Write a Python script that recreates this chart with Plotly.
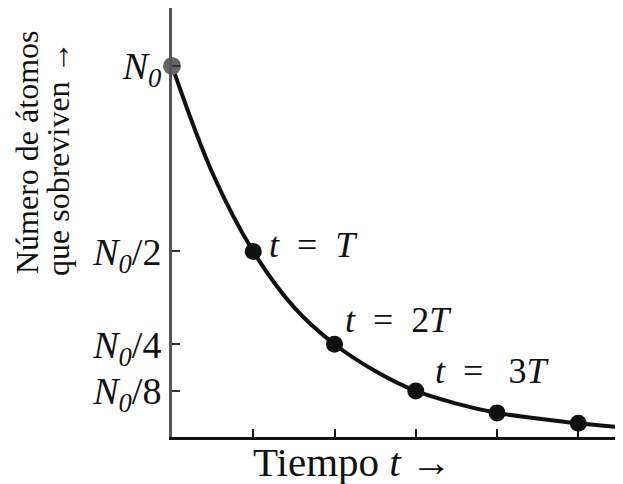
import plotly.graph_objects as go

# curve (t in half-lives, N/N0)
curve_t = [0, 0.5, 1, 1.5, 2, 2.5, 3, 3.5, 4, 4.5, 5, 5.55]
curve_n = [1.0, 0.71, 0.5, 0.35, 0.25, 0.178, 0.124, 0.09, 0.065, 0.05, 0.037, 0.026]

dot_t = [1, 2, 3, 4, 5]
dot_n = [0.5, 0.25, 0.124, 0.065, 0.037]

y_ticks = [1, 0.5, 0.25, 0.125]
y_labels = [
    "<i>N</i><sub><i>0</i></sub>",
    "<i>N</i><sub><i>0</i></sub>/2",
    "<i>N</i><sub><i>0</i></sub>/4",
    "<i>N</i><sub><i>0</i></sub>/8",
]
x_ticks = [1, 2, 3, 4, 5]

notes = [
    (1.17, 0.518, "<i>t</i>\u2002=\u2002<i>T</i>"),
    (2.11, 0.315, "<i>t</i>\u2002=\u20022<i>T</i>"),
    (3.21, 0.178, "<i>t</i>\u2002=\u2002\u20093<i>T</i>"),
]

SERIF = "Liberation Serif"

# the page adds an 8px body margin, so the figure is 8px smaller and shifted
W, H = 615, 476
L, B = 164, 47
PW, PH = W - L, H - B


def px_x(x):
    return (x - 8 - L) / PW


def px_y(y):
    return (H - B - (y - 8)) / PH


fig = go.Figure()
fig.add_trace(go.Scatter(
    x=curve_t, y=curve_n, mode="lines", line=dict(color="#111", width=4, shape="spline"),
    hoverinfo="skip",
))
fig.add_trace(go.Scatter(
    x=dot_t, y=dot_n, mode="markers", marker=dict(color="#111", size=17),
    cliponaxis=False,
))
fig.add_trace(go.Scatter(
    x=[0], y=[1], mode="markers", marker=dict(color="#666", size=18),
    cliponaxis=False,
))

for x, y, txt in notes:
    fig.add_annotation(x=x, y=y, text=txt, showarrow=False, xanchor="left", yanchor="middle",
                       font=dict(family=SERIF, size=36, color="#111"))

fig.add_annotation(xref="paper", yref="paper", x=px_x(27), y=px_y(152),
                   xanchor="center", yanchor="middle",
                   text="Número de átomos", textangle=-90, showarrow=False,
                   font=dict(family=SERIF, size=32, color="#111"))
fig.add_annotation(xref="paper", yref="paper", x=px_x(58), y=px_y(159),
                   xanchor="center", yanchor="middle",
                   text="que sobreviven →", textangle=-90, showarrow=False,
                   font=dict(family=SERIF, size=32, color="#111"))
fig.add_annotation(xref="paper", yref="paper", x=px_x(352), y=px_y(462),
                   xanchor="center", yanchor="middle",
                   text="Tiempo <i>t</i> →", showarrow=False,
                   font=dict(family=SERIF, size=41, color="#111"))

fig.update_xaxes(
    range=[0, 5.55], showline=True, linecolor="#111", linewidth=3, mirror=False,
    showgrid=False, zeroline=False, tickvals=x_ticks, showticklabels=False,
    ticks="inside", ticklen=8, tickwidth=2, tickcolor="#111",
)
fig.update_yaxes(
    range=[0, 1.156], showline=True, linecolor="#555", linewidth=3,
    showgrid=False, zeroline=False, tickvals=y_ticks, ticktext=y_labels,
    ticks="inside", ticklen=8, tickwidth=2, tickcolor="#333",
    tickfont=dict(family=SERIF, size=38, color="#111"),
)
fig.update_layout(
    width=W, height=H, showlegend=False,
    margin=dict(l=L, r=0, t=0, b=B),
    paper_bgcolor="white", plot_bgcolor="white",
)
fig.write_html("out.html")
